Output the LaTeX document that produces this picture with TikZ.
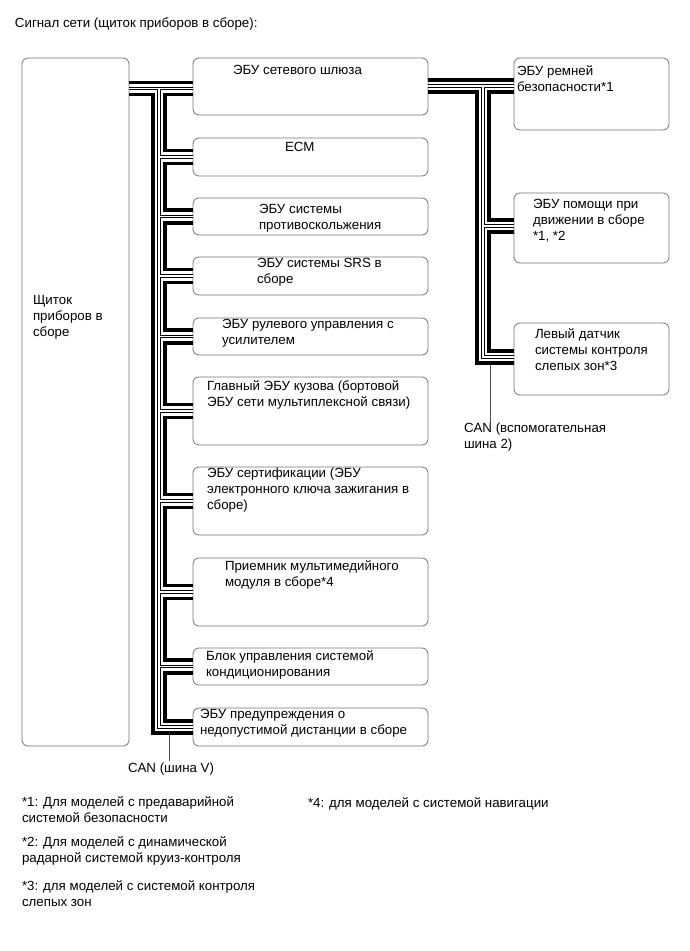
\documentclass[tikz,border=0pt]{standalone}
\usepackage{fontspec}
\setmainfont{Liberation Sans}
\begin{document}
\begin{tikzpicture}[x=1pt,y=-1pt,
  box/.style={draw=black!55, line width=0.8pt, rounded corners=6pt, anchor=north west, inner sep=0pt, outer sep=0pt},
  txt/.style={anchor=north west, inner sep=0pt, outer sep=0pt, align=left, font=\fontsize{13.3}{16}\selectfont, execute at begin node=\strut},
  bk/.style={line width=3.4pt, black},
  wwo/.style={line width=3.4pt, black},
  wwi/.style={line width=1.8pt, white},
  tick/.style={line width=0.8pt, black!70}]
\useasboundingbox (0,0) rectangle (690,951);

% boxes
\node[box, minimum width=107pt, minimum height=688pt] (ipc) at (22,58) {};
\node[box, minimum width=235pt, minimum height=57pt] (gw) at (193,58) {};
\node[box, minimum width=235pt, minimum height=38pt] (ecm) at (193,138) {};
\node[box, minimum width=235pt, minimum height=37pt] (vsc) at (193,198) {};
\node[box, minimum width=235pt, minimum height=38pt] (srs) at (193,257) {};
\node[box, minimum width=235pt, minimum height=37pt] (eps) at (193,318) {};
\node[box, minimum width=235pt, minimum height=68pt] (body) at (193,377) {};
\node[box, minimum width=235pt, minimum height=68pt] (cert) at (193,467) {};
\node[box, minimum width=235pt, minimum height=68pt] (mm) at (193,558) {};
\node[box, minimum width=235pt, minimum height=37pt] (ac) at (193,648) {};
\node[box, minimum width=235pt, minimum height=38pt] (dw) at (193,708) {};
\node[box, minimum width=155pt, minimum height=72pt] (belt) at (514,58) {};
\node[box, minimum width=155pt, minimum height=70pt] (da) at (514,193) {};
\node[box, minimum width=155pt, minimum height=72pt] (bsm) at (514,323) {};

% texts
\node[txt] (title) at (15,16.3) {Сигнал сети (щиток приборов в сборе):};
\node[txt] (tipc) at (33,295.3) {Щиток\\приборов в\\сборе};
\node[txt] (tgw) at (233,63.3) {ЭБУ сетевого шлюза};
\node[txt] (tecm) at (285,140.3) {ECM};
\node[txt] (tvsc) at (259,204.3) {ЭБУ системы\\противоскольжения};
\node[txt] (tsrs) at (257,258.3) {ЭБУ системы SRS в\\сборе};
\node[txt] (teps) at (222,319.3) {ЭБУ рулевого управления с\\усилителем};
\node[txt] (tbody) at (207,380.3) {Главный ЭБУ кузова (бортовой\\ЭБУ сети мультиплексной связи)};
\node[txt] (tcert) at (207,468.3) {ЭБУ сертификации (ЭБУ\\электронного ключа зажигания в\\сборе)};
\node[txt] (tmm) at (225,560.3) {Приемник мультимедийного\\модуля в сборе*4};
\node[txt] (tac) at (206,650.3) {Блок управления системой\\кондиционирования};
\node[txt] (tdw) at (200,709.3) {ЭБУ предупреждения о\\недопустимой дистанции в сборе};
\node[txt] (tbelt) at (517,65.3) {ЭБУ ремней\\безопасности*1};
\node[txt] (tda) at (533,199.3) {ЭБУ помощи при\\движении в сборе\\*1, *2};
\node[txt] (tbsm) at (535,328.3) {Левый датчик\\системы контроля\\слепых зон*3};
\node[txt] (canv) at (128,761.3) {CAN (шина V)};
\node[txt] (can2) at (464,423.3) {CAN (вспомогательная\\шина 2)};
\node[txt] (fn1) at (22,796.3) {*1: Для моделей с предаварийной\\системой безопасности};
\node[txt] (fn2) at (22,836.3) {*2: Для моделей с динамической\\радарной системой круиз-контроля};
\node[txt] (fn3) at (22,880.3) {*3: для моделей с системой контроля\\слепых зон};
\node[txt] (fn4) at (308,796.3) {*4: для моделей с системой навигации};

% label ticks
\coordinate (canvtop) at (169,733);
\coordinate (can2top) at (490,363);
\draw[tick] (canvtop) -- (canv.north -| canvtop);
\draw[tick] (can2top) -- (can2.north -| can2top);

% white (outlined) wire, drawn twice
\newcommand\mywhitewire[1]{%
  \draw[#1] (ipc.east |- 0,88.5) -- (gw.west |- 0,88.5);
  \draw[#1] (159,88.5) -- (159,727) -- (dw.west |- 0,727);
  \draw[#1] (159,157) -- (ecm.west |- 0,157);
  \draw[#1] (159,216.5) -- (vsc.west |- 0,216.5);
  \draw[#1] (159,276) -- (srs.west |- 0,276);
  \draw[#1] (159,336.5) -- (eps.west |- 0,336.5);
  \draw[#1] (159,411) -- (body.west |- 0,411);
  \draw[#1] (159,501) -- (cert.west |- 0,501);
  \draw[#1] (159,592) -- (mm.west |- 0,592);
  \draw[#1] (159,666.5) -- (ac.west |- 0,666.5);
  \draw[#1] (gw.east |- 0,86) -- (belt.west |- 0,86);
  \draw[#1] (483,86) -- (483,357) -- (bsm.west |- 0,357);
  \draw[#1] (483,226) -- (da.west |- 0,226);
}
\mywhitewire{wwo}
\mywhitewire{wwi}

% black wires, left bus
\draw[bk] (ipc.east |- 0,82.5) -- (gw.west |- 0,82.5);
\draw[bk] (ipc.east |- 0,94.5) -| (153,733) -- (dw.west |- 0,733);
\draw[bk] (gw.west |- 0,94.5) -| (165,150.5) -- (ecm.west |- 0,150.5);
\draw[bk] (ecm.west |- 0,163.5) -| (165,210) -- (vsc.west |- 0,210);
\draw[bk] (vsc.west |- 0,223) -| (165,269.5) -- (srs.west |- 0,269.5);
\draw[bk] (srs.west |- 0,282.5) -| (165,330) -- (eps.west |- 0,330);
\draw[bk] (eps.west |- 0,343) -| (165,404.5) -- (body.west |- 0,404.5);
\draw[bk] (body.west |- 0,417.5) -| (165,494.5) -- (cert.west |- 0,494.5);
\draw[bk] (cert.west |- 0,507.5) -| (165,585.5) -- (mm.west |- 0,585.5);
\draw[bk] (mm.west |- 0,598.5) -| (165,660) -- (ac.west |- 0,660);
\draw[bk] (ac.west |- 0,673) -| (165,721) -- (dw.west |- 0,721);

% black wires, right bus
\draw[bk] (gw.east |- 0,80) -- (belt.west |- 0,80);
\draw[bk] (gw.east |- 0,92) -| (477,363) -- (bsm.west |- 0,363);
\draw[bk] (belt.west |- 0,92) -| (489,220) -- (da.west |- 0,220);
\draw[bk] (da.west |- 0,232) -| (489,351) -- (bsm.west |- 0,351);
\end{tikzpicture}
\end{document}
